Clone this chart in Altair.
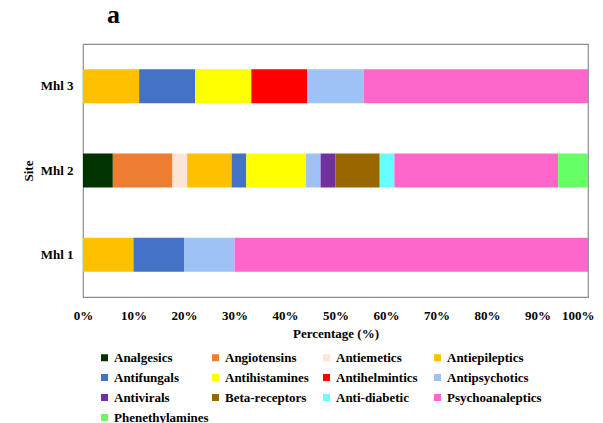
import altair as alt
import pandas as pd

sites = ["Mhl 3", "Mhl 2", "Mhl 1"]

classes = [
    "Analgesics", "Angiotensins", "Antiemetics", "Antiepileptics",
    "Antifungals", "Antihistamines", "Antihelmintics", "Antipsychotics",
    "Antivirals", "Beta-receptors", "Anti-diabetic", "Psychoanaleptics",
    "Phenethylamines",
]
colors = [
    "#003300", "#ED7D31", "#FBE5D6", "#FFC000",
    "#4472C4", "#FFFF00", "#FF0000", "#9DC3F6",
    "#7030A0", "#996600", "#66FFFF", "#FF66CC",
    "#66FF66",
]

# percentages per site, in class order
mhl3 = [0, 0, 0, 11.1, 11.1, 11.1, 11.1, 11.1, 0, 0, 0, 44.4, 0]
mhl2 = [5.9, 11.8, 2.9, 8.8, 2.9, 11.8, 0, 2.9, 2.9, 8.8, 2.9, 32.4, 5.9]
mhl1 = [0, 0, 0, 10, 10, 0, 0, 10, 0, 0, 0, 70, 0]

rows = []
for site, vals in zip(sites, [mhl3, mhl2, mhl1]):
    for i, (c, v) in enumerate(zip(classes, vals)):
        if v > 0:
            rows.append({"Site": site, "Class": c, "Value": v, "idx": i})
df = pd.DataFrame(rows)

FONT = "Liberation Serif"
ticks = [i / 10 for i in range(11)]

bars = alt.Chart(df).mark_bar(size=34).encode(
    x=alt.X(
        "Value:Q",
        stack="normalize",
        scale=alt.Scale(domain=[0, 1], nice=False),
        axis=alt.Axis(
            title="Percentage (%)", format=".0%", values=ticks,
            grid=False, domain=False, ticks=False, tickSize=0,
            labelPadding=12, labelFlush=False, titlePadding=5,
            labelAlign={"expr": "datum.value >= 0.999 ? 'right' : 'center'"},
            labelOffset={"expr": "datum.value >= 0.999 ? 6 : 0"},
        ),
    ),
    y=alt.Y(
        "Site:N",
        sort=sites,
        axis=alt.Axis(
            title="Site", grid=False, domain=False, ticks=False, tickSize=0,
            labelPadding=10, titlePadding=5,
        ),
    ),
    color=alt.Color(
        "Class:N",
        scale=alt.Scale(domain=classes, range=colors),
        legend=alt.Legend(
            title=None, orient="none", legendX=15, legendY=307,
            direction="horizontal",
            columns=4, gridAlign="all", columnPadding=0, rowPadding=6,
            symbolType="square", symbolSize=49, symbolStrokeWidth=0,
            labelOffset=3, labelFont=FONT, labelFontSize=13,
            labelFontWeight="bold", labelColor="#000000", padding=0,
            labelLimit=200,
        ),
    ),
    order=alt.Order("idx:Q", sort="ascending"),
)

chart = bars.properties(
    width=505,
    height=253,
    autosize=alt.AutoSizeParams(type="none"),
    padding={"left": 75, "top": 36, "right": 7, "bottom": 126},
    title=alt.TitleParams(
        "a", anchor="start", frame="group", dx=24, offset=16,
        font=FONT, fontSize=26, fontWeight="bold", color="#000000",
    ),
).configure_view(
    stroke="#8C8C8C", strokeWidth=1.2,
).configure_axis(
    labelFont=FONT, labelFontSize=13, labelFontWeight="bold",
    labelColor="#000000", titleFont=FONT, titleFontSize=13,
    titleFontWeight="bold", titleColor="#000000",
)

chart.save("out.html", embed_options={"renderer": "svg", "actions": False})
